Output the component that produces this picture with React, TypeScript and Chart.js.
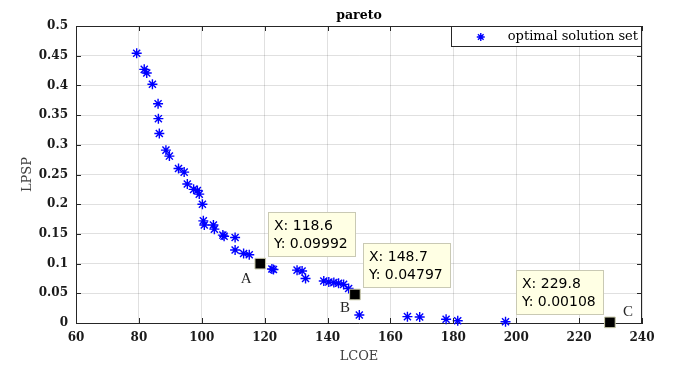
import React, { useEffect, useRef } from 'react';
import { Chart, registerables } from 'chart.js';

Chart.register(...registerables);

// ---- data ----
const lcoe = [
  79.3, 81.7, 82.5, 84.3, 86.1, 86.2, 86.5, 88.6, 89.7, 92.6, 94.4, 95.4, 97.4, 98.6, 99.2,
  100.2, 100.5, 100.8, 103.7, 104.0, 106.7, 107.1, 110.6, 110.6, 113.3, 115.1, 118.6, 122.3,
  122.8, 130.3, 131.9, 133.0, 138.8, 140.4, 142.0, 143.5, 145.1, 146.7, 148.7, 150.1, 165.4,
  169.3, 177.7, 181.4, 196.6, 229.8,
];
const lpsp = [
  0.454, 0.427, 0.421, 0.402, 0.369, 0.344, 0.319, 0.291, 0.281, 0.26, 0.254, 0.234, 0.225,
  0.223, 0.217, 0.2, 0.172, 0.165, 0.165, 0.158, 0.148, 0.146, 0.144, 0.123, 0.117, 0.115,
  0.09992, 0.091, 0.09, 0.089, 0.0875, 0.075, 0.0707, 0.069, 0.068, 0.067, 0.065, 0.058,
  0.04797, 0.0135, 0.0107, 0.0101, 0.0062, 0.0039, 0.002, 0.00108,
];
const tipLcoe = [118.6, 148.7, 229.8];
const tipLpsp = [0.09992, 0.04797, 0.00108];
const tipNames = ['A', 'B', 'C'];

const xTicks = [60, 80, 100, 120, 140, 160, 180, 200, 220, 240];
const xTickLabels = ['60', '80', '100', '120', '140', '160', '180', '200', '220', '240'];
const yTicks = [0, 0.05, 0.1, 0.15, 0.2, 0.25, 0.3, 0.35, 0.4, 0.45, 0.5];
const yTickLabels = ['0', '0.05', '0.1', '0.15', '0.2', '0.25', '0.3', '0.35', '0.4', '0.45', '0.5'];

const seriesLabel = 'optimal solution set';
const titleText = 'pareto';
const xTitle = 'LCOE';
const yTitle = 'LPSP';

// ---- styles (placement of data tips and letter labels) ----
const tipPlacement = [
  { side: 'right', lx: -14, ly: 15 },
  { side: 'right', lx: -10, ly: 14 },
  { side: 'left', lx: 18, ly: -10 },
];

const BLUE = '#0000ff';
const AXIS = '#262626';

const decorPlugin = {
  id: 'decor',
  afterDatasetsDraw(chart: any) {
    const ctx = chart.ctx as CanvasRenderingContext2D;
    const { left, right, top, bottom } = chart.chartArea;
    const xs = chart.scales.x;
    const ys = chart.scales.y;
    ctx.save();

    // frame (top/right) and inward ticks
    ctx.strokeStyle = AXIS;
    ctx.lineWidth = 1;
    ctx.beginPath();
    ctx.moveTo(left, top + 0.5);
    ctx.lineTo(right, top + 0.5);
    ctx.moveTo(right - 0.5, top);
    ctx.lineTo(right - 0.5, bottom);
    const tl = 5;
    xTicks.forEach((v) => {
      const px = Math.round(xs.getPixelForValue(v)) + 0.5;
      ctx.moveTo(px, bottom);
      ctx.lineTo(px, bottom - tl);
      ctx.moveTo(px, top);
      ctx.lineTo(px, top + tl);
    });
    yTicks.forEach((v) => {
      const py = Math.round(ys.getPixelForValue(v)) + 0.5;
      ctx.moveTo(left, py);
      ctx.lineTo(left + tl, py);
      ctx.moveTo(right, py);
      ctx.lineTo(right - tl, py);
    });
    ctx.stroke();

    // title
    ctx.fillStyle = '#000';
    ctx.font = 'bold 12.5px "DejaVu Serif"';
    ctx.textAlign = 'center';
    ctx.textBaseline = 'alphabetic';
    ctx.fillText(titleText, (left + right) / 2, 19);

    // data tips
    ctx.font = '14px "DejaVu Sans"';
    tipLcoe.forEach((xv, i) => {
      const yv = tipLpsp[i];
      const px = xs.getPixelForValue(xv);
      const py = ys.getPixelForValue(yv);
      const l1 = `X: ${xv}`;
      const l2 = `Y: ${yv}`;
      const w = Math.ceil(Math.max(ctx.measureText(l1).width, ctx.measureText(l2).width)) + 14;
      const h = 45;
      const pl = tipPlacement[i];
      const bx = Math.round(pl.side === 'right' ? px + 8 : px - 6 - w);
      const by = Math.round(py - 52);
      ctx.fillStyle = '#ffffe4';
      ctx.fillRect(bx, by, w, h);
      ctx.strokeStyle = '#c9c9b4';
      ctx.strokeRect(bx + 0.5, by + 0.5, w - 1, h - 1);
      ctx.fillStyle = '#000';
      ctx.textAlign = 'left';
      ctx.textBaseline = 'middle';
      ctx.fillText(l1, bx + 6, by + 14);
      ctx.fillText(l2, bx + 6, by + 32);
    });

    // letter labels
    ctx.font = '15px "Liberation Serif"';
    ctx.fillStyle = '#262626';
    ctx.textAlign = 'center';
    ctx.textBaseline = 'middle';
    tipNames.forEach((n, i) => {
      const px = xs.getPixelForValue(tipLcoe[i]);
      const py = ys.getPixelForValue(tipLpsp[i]);
      ctx.fillText(n, px + tipPlacement[i].lx, py + tipPlacement[i].ly);
    });

    // legend
    ctx.font = '13px "DejaVu Serif"';
    const tw = ctx.measureText(seriesLabel).width;
    const lgRight = right;
    const textRight = lgRight - 4;
    const textLeft = textRight - tw;
    const starX = textLeft - 27;
    const lgLeft = Math.round(starX - 30);
    const lgTop = top;
    const lgH = 21;
    ctx.fillStyle = '#fff';
    ctx.fillRect(lgLeft, lgTop, lgRight - lgLeft, lgH);
    ctx.strokeStyle = AXIS;
    ctx.strokeRect(lgLeft + 0.5, lgTop + 0.5, lgRight - lgLeft - 1, lgH - 1);
    ctx.fillStyle = '#000';
    ctx.textAlign = 'left';
    ctx.textBaseline = 'middle';
    ctx.fillText(seriesLabel, textLeft, lgTop + 11);
    // star marker
    ctx.strokeStyle = BLUE;
    ctx.lineWidth = 1.4;
    const r = 4;
    const cy = lgTop + 11;
    ctx.beginPath();
    ctx.moveTo(starX - r, cy);
    ctx.lineTo(starX + r, cy);
    ctx.moveTo(starX, cy - r);
    ctx.lineTo(starX, cy + r);
    const d = r * Math.SQRT1_2;
    ctx.moveTo(starX - d, cy - d);
    ctx.lineTo(starX + d, cy + d);
    ctx.moveTo(starX - d, cy + d);
    ctx.lineTo(starX + d, cy - d);
    ctx.stroke();

    ctx.restore();
  },
};

export default function App() {
  const ref = useRef<HTMLCanvasElement>(null);
  useEffect(() => {
    document.body.style.margin = '0';
    if (!ref.current) return;
    const tickFont = { family: 'DejaVu Serif', size: 12, weight: 'bold' as const };
    const titleFont = { family: 'DejaVu Serif', size: 13 };
    const chart = new Chart(ref.current, {
      type: 'scatter',
      data: {
        datasets: [
          {
            label: 'tips',
            data: tipLcoe.map((x, i) => ({ x, y: tipLpsp[i] })),
            pointStyle: 'rect',
            pointRadius: 7.5,
            backgroundColor: '#000',
            borderColor: '#c8c8a8',
            borderWidth: 1,
            order: 0,
            clip: false,
          } as any,
          {
            label: seriesLabel,
            data: lcoe.map((x, i) => ({ x, y: lpsp[i] })),
            pointStyle: 'star',
            pointRadius: 5,
            borderColor: BLUE,
            backgroundColor: BLUE,
            borderWidth: 1.4,
            order: 1,
            clip: false,
          } as any,
        ],
      },
      options: {
        responsive: false,
        animation: false,
        devicePixelRatio: 1,
        layout: { padding: { left: 0, top: 26, right: 31, bottom: 0 } },
        plugins: {
          legend: { display: false },
          tooltip: { enabled: false },
          title: { display: false },
        },
        scales: {
          x: {
            type: 'linear',
            min: 60,
            max: 240,
            afterBuildTicks: (s: any) => {
              s.ticks = xTicks.map((v) => ({ value: v }));
            },
            afterFit: (s: any) => {
              s.height = 43;
            },
            ticks: {
              autoSkip: false,
              maxRotation: 0,
              padding: 8,
              font: tickFont,
              color: '#1a1a1a',
              callback: (_v: any, i: number) => xTickLabels[i],
            },
            grid: { color: 'rgba(0,0,0,0.12)', drawTicks: false },
            border: { color: AXIS, width: 1 },
            title: {
              display: true,
              text: xTitle,
              font: titleFont,
              color: '#404040',
              padding: { top: 0, bottom: 2 },
            },
          },
          y: {
            type: 'linear',
            min: 0,
            max: 0.5,
            afterBuildTicks: (s: any) => {
              s.ticks = yTicks.map((v) => ({ value: v }));
            },
            afterFit: (s: any) => {
              s.width = 76;
            },
            ticks: {
              autoSkip: false,
              padding: 8,
              font: tickFont,
              color: '#1a1a1a',
              callback: (_v: any, i: number) => yTickLabels[i],
            },
            grid: { color: 'rgba(0,0,0,0.12)', drawTicks: false },
            border: { color: AXIS, width: 1 },
            title: {
              display: true,
              text: yTitle,
              font: titleFont,
              color: '#404040',
              padding: { top: 20, bottom: 0 },
            },
          },
        },
      } as any,
      plugins: [decorPlugin],
    });
    return () => chart.destroy();
  }, []);
  return (
    <div style={{ width: 673, height: 366, background: '#fff' }}>
      <canvas ref={ref} width={673} height={366} style={{ display: 'block' }} />
    </div>
  );
}
